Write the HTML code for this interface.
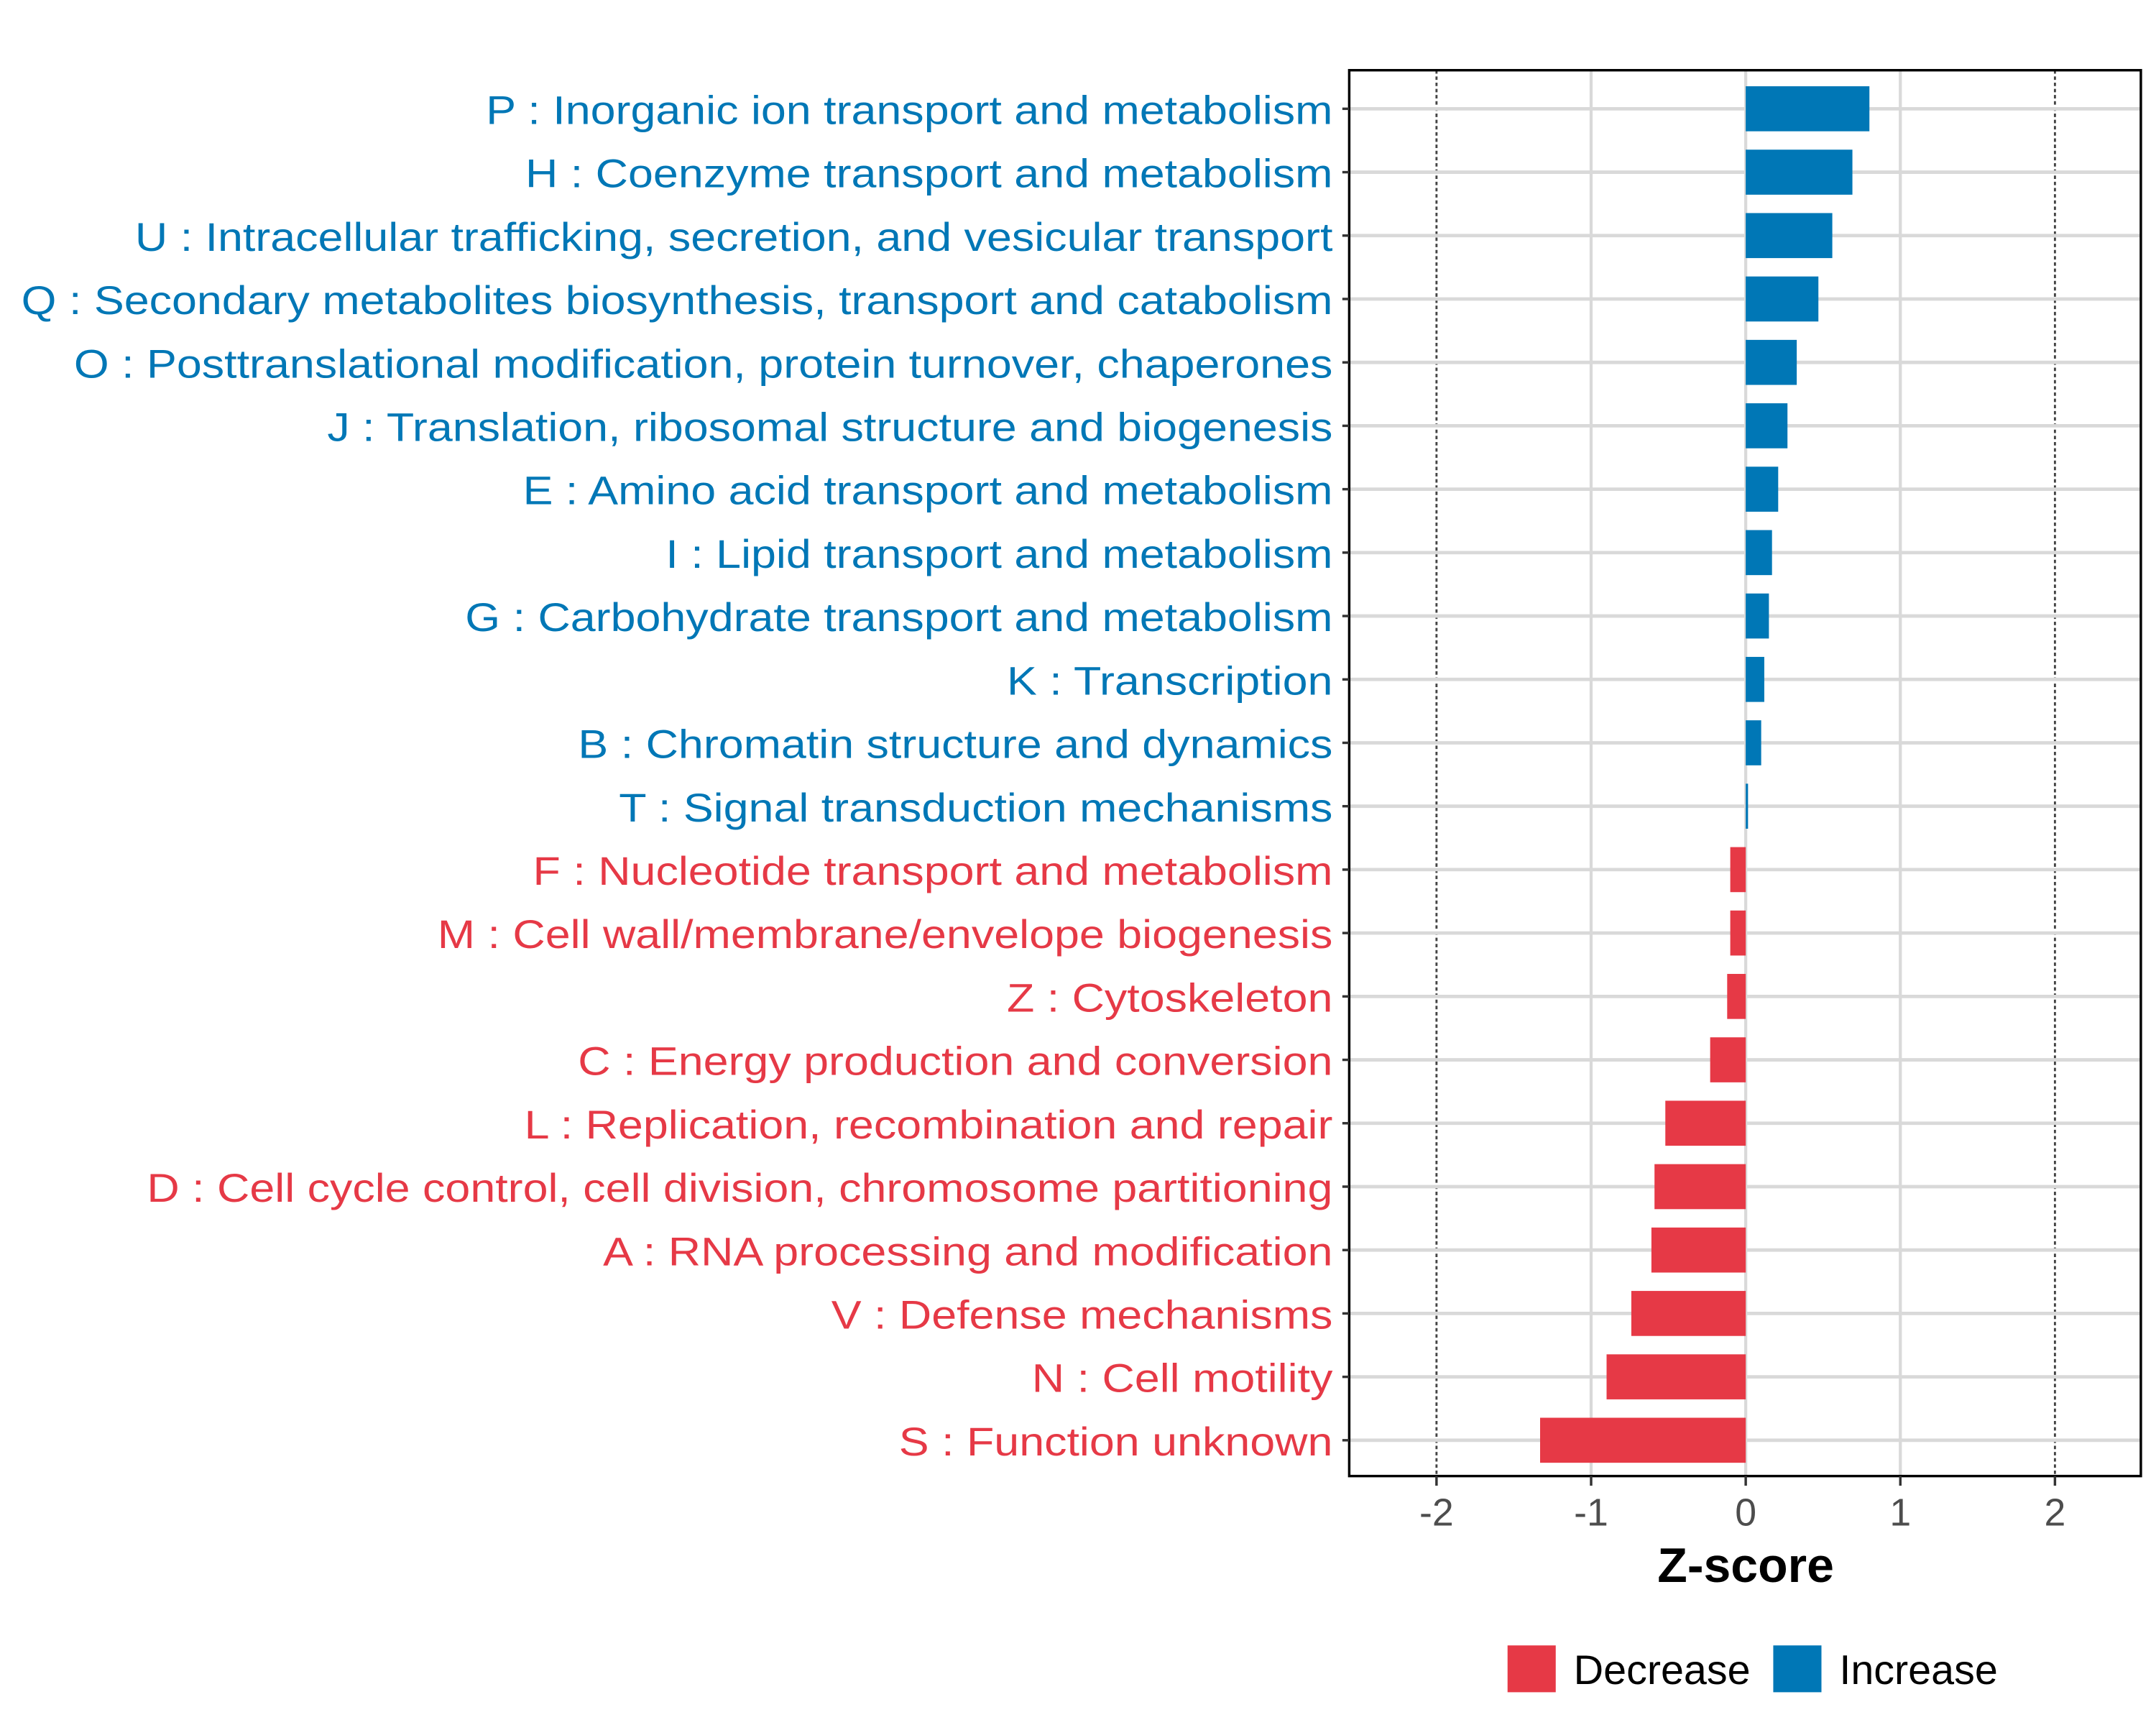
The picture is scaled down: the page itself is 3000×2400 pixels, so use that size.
<!DOCTYPE html>
<html><head><meta charset="utf-8"><style>
html,body{margin:0;padding:0;background:#fff}
svg{display:block}
text{font-family:"Liberation Sans",Arial,sans-serif}
</style></head><body>
<svg id="chart" width="3000" height="2400" viewBox="0 0 1566 1252.8" preserveAspectRatio="none" xmlns="http://www.w3.org/2000/svg">
<rect x="0" y="0" width="1566" height="1253" fill="#fff"/>
<g id="grid"></g>
<g id="bars"></g>
<rect x="980" y="51" width="575" height="1021" fill="none" stroke="#000" stroke-width="1.8"/>
<g id="ylabels"></g>
<g id="xaxis"></g>
<text x="1268" y="1149" font-size="35.5" font-weight="bold" text-anchor="middle" fill="#000">Z-score</text>
<g>
<rect x="1095" y="1195" width="35" height="34" fill="#E63946"/>
<text x="1143" y="1223" font-size="30" fill="#000">Decrease</text>
<rect x="1288" y="1195" width="35" height="34" fill="#0077B6"/>
<text x="1336" y="1223" font-size="30" fill="#000">Increase</text>
</g>
</svg>
<script>
const categories = ["P : Inorganic ion transport and metabolism","H : Coenzyme transport and metabolism","U : Intracellular trafficking, secretion, and vesicular transport","Q : Secondary metabolites biosynthesis, transport and catabolism","O : Posttranslational modification, protein turnover, chaperones","J : Translation, ribosomal structure and biogenesis","E : Amino acid transport and metabolism","I : Lipid transport and metabolism","G : Carbohydrate transport and metabolism","K : Transcription","B : Chromatin structure and dynamics","T : Signal transduction mechanisms","F : Nucleotide transport and metabolism","M : Cell wall/membrane/envelope biogenesis","Z : Cytoskeleton","C : Energy production and conversion","L : Replication, recombination and repair","D : Cell cycle control, cell division, chromosome partitioning","A : RNA processing and modification","V : Defense mechanisms","N : Cell motility","S : Function unknown"];
const zscores = [0.80,0.69,0.56,0.47,0.33,0.27,0.21,0.17,0.15,0.12,0.10,0.015,-0.10,-0.10,-0.12,-0.23,-0.52,-0.59,-0.61,-0.74,-0.90,-1.33];
const xTicks = [-2,-1,0,1,2];
const xTickLabels = ["-2","-1","0","1","2"];
const dottedTicks = [-2,2];

const NS="http://www.w3.org/2000/svg";
const X0=1268, UNIT=112.3, ROW0=79, ROWSTEP=(1046-79)/21, BARH=32.7;
function xs(v){return X0+v*UNIT;}
function ys(i){return ROW0+i*ROWSTEP;}
function mk(tag,attrs,parent){const e=document.createElementNS(NS,tag);for(const k in attrs)e.setAttribute(k,attrs[k]);parent.appendChild(e);return e;}
const grid=document.getElementById('grid'),bars=document.getElementById('bars'),yl=document.getElementById('ylabels'),xa=document.getElementById('xaxis');
xTicks.forEach((t,i)=>{
  const dotted=dottedTicks.includes(t);
  const g=mk('line',{x1:xs(t),x2:xs(t),y1:51,y2:1072,stroke:dotted?'#444':'#d9d9d9','stroke-width':dotted?1.5:2.2,'stroke-dasharray':dotted?'2.5,2':'none'},grid);
  
  
  const tk=mk('line',{x1:xs(t),x2:xs(t),y1:1072,y2:1079,stroke:'#333','stroke-width':1.8},xa);
  
  
  const tl=mk('text',{x:xs(t),y:1108,'font-size':28,'text-anchor':'middle',fill:'#4d4d4d'},xa);
  tl.textContent=xTickLabels[i];
  
  
});
categories.forEach((c,i)=>{
  const y=ys(i),v=zscores[i],col=v>=0?'#0077B6':'#E63946';
  const hl=mk('line',{x1:980,x2:1555,y1:y,y2:y,stroke:'#d9d9d9','stroke-width':2.5},grid);
  
  
  const b=mk('rect',{x:Math.min(xs(0),xs(v)),y:y-BARH/2,width:Math.max(Math.abs(xs(v)-xs(0)),1.5),height:BARH,fill:col},bars);
  
  
  const tk=mk('line',{x1:975,x2:980,y1:y,y2:y,stroke:'#333','stroke-width':1.8},yl);
  
  
  const t=mk('text',{x:968,y:y+11,'font-size':29,'text-anchor':'end',fill:col},yl);
  t.textContent=c;
  
  
  const L=t.getComputedTextLength();
  t.setAttribute('textLength',(L*1.13).toFixed(1));
  t.setAttribute('lengthAdjust','spacingAndGlyphs');
});
</script>
</body></html>
